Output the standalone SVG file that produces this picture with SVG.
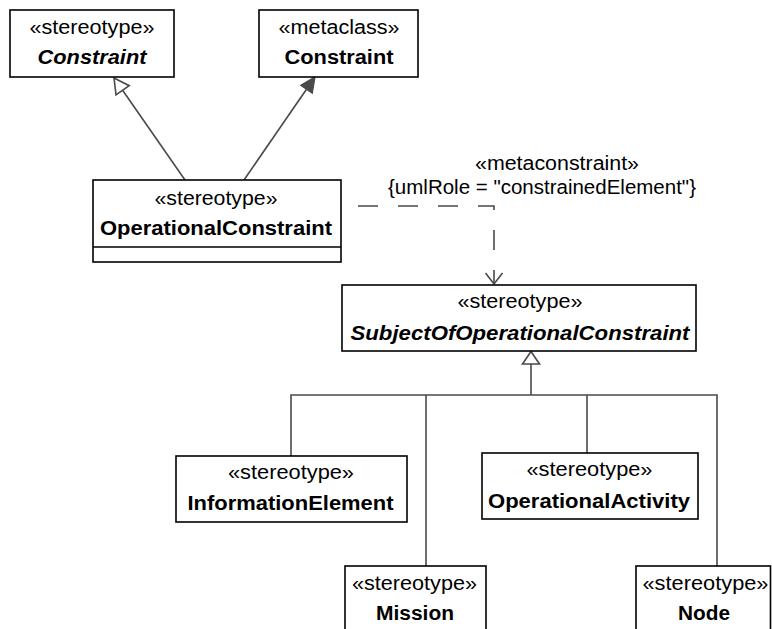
<svg xmlns="http://www.w3.org/2000/svg" width="772" height="629" viewBox="0 0 772 629">
<style>
.box{fill:#fff;stroke:#000;stroke-width:1.6}
.st{font-family:"Liberation Sans",Arial,sans-serif;font-size:20px;fill:#000;text-anchor:middle}
.nm{font-family:"Liberation Sans",Arial,sans-serif;font-size:20px;font-weight:bold;fill:#000;text-anchor:middle}
.it{font-style:italic}
.ln{fill:none;stroke:#4a4a4a;stroke-width:1.6}
</style>
<rect width="772" height="629" fill="#fff"/>
<g id="connectors">
  <line class="ln" x1="185" y1="180" x2="122.6" y2="90.3"/>
  <polygon points="114,78 129.2,85.7 116,94.9" fill="#fff" stroke="#4a4a4a" stroke-width="1.6"/>
  <line class="ln" x1="244" y1="180" x2="306.5" y2="89.3"/>
  <polygon points="315,77 312.3,93.3 300.7,85.3" fill="#4a4a4a" stroke="#4a4a4a" stroke-width="1.2"/>
  <path class="ln" d="M358,206 H494 V284" stroke-dasharray="20 20"/>
  <path class="ln" d="M485.5,273 L494,284 L502.5,273"/>
  <polygon points="531,351.5 539.5,364 522.5,364" fill="#fff" stroke="#4a4a4a" stroke-width="1.6"/>
  <path class="ln" d="M531,364 V395"/>
  <path class="ln" d="M291,456 V395 H717 V566"/>
  <path class="ln" d="M426,395 V566"/>
  <path class="ln" d="M587,395 V453"/>
  <text class="st" x="557" y="170" textLength="164" lengthAdjust="spacingAndGlyphs">«metaconstraint»</text>
  <text class="st" x="542" y="194" textLength="308" lengthAdjust="spacingAndGlyphs">{umlRole = "constrainedElement"}</text>
</g>
<g id="stereotype-constraint">
  <rect class="box" x="10" y="10" width="164" height="67"/>
  <text class="st" x="92" y="34" textLength="125" lengthAdjust="spacingAndGlyphs">«stereotype»</text>
  <text class="nm it" x="92" y="64" textLength="109" lengthAdjust="spacingAndGlyphs">Constraint</text>
</g>
<g id="metaclass-constraint">
  <rect class="box" x="259" y="10" width="159" height="67"/>
  <text class="st" x="339" y="34" textLength="121" lengthAdjust="spacingAndGlyphs">«metaclass»</text>
  <text class="nm" x="339" y="64" textLength="109" lengthAdjust="spacingAndGlyphs">Constraint</text>
</g>
<g id="operational-constraint">
  <rect class="box" x="93" y="180" width="248" height="82"/>
  <line x1="93" y1="247" x2="341" y2="247" stroke="#000" stroke-width="1.6"/>
  <text class="st" x="216" y="205" textLength="123" lengthAdjust="spacingAndGlyphs">«stereotype»</text>
  <text class="nm" x="216" y="235" textLength="232" lengthAdjust="spacingAndGlyphs">OperationalConstraint</text>
</g>
<g id="subject-of-operational-constraint">
  <rect class="box" x="342" y="285" width="354" height="66"/>
  <text class="st" x="520" y="308" textLength="125" lengthAdjust="spacingAndGlyphs">«stereotype»</text>
  <text class="nm it" x="520" y="340" textLength="339" lengthAdjust="spacingAndGlyphs">SubjectOfOperationalConstraint</text>
</g>
<g id="information-element">
  <rect class="box" x="176" y="456" width="231" height="66"/>
  <text class="st" x="291" y="479" textLength="126" lengthAdjust="spacingAndGlyphs">«stereotype»</text>
  <text class="nm" x="290.5" y="510" textLength="206" lengthAdjust="spacingAndGlyphs">InformationElement</text>
</g>
<g id="operational-activity">
  <rect class="box" x="482" y="453" width="216" height="66"/>
  <text class="st" x="589.5" y="476" textLength="126" lengthAdjust="spacingAndGlyphs">«stereotype»</text>
  <text class="nm" x="589" y="508" textLength="202" lengthAdjust="spacingAndGlyphs">OperationalActivity</text>
</g>
<g id="mission">
  <rect class="box" x="345" y="566" width="141" height="80"/>
  <text class="st" x="414.5" y="590" textLength="125" lengthAdjust="spacingAndGlyphs">«stereotype»</text>
  <text class="nm" x="415" y="620" textLength="78" lengthAdjust="spacingAndGlyphs">Mission</text>
</g>
<g id="node">
  <rect class="box" x="636" y="566" width="134.5" height="80"/>
  <text class="st" x="705.5" y="590" textLength="126" lengthAdjust="spacingAndGlyphs">«stereotype»</text>
  <text class="nm" x="704" y="620" textLength="52" lengthAdjust="spacingAndGlyphs">Node</text>
</g>
</svg>
